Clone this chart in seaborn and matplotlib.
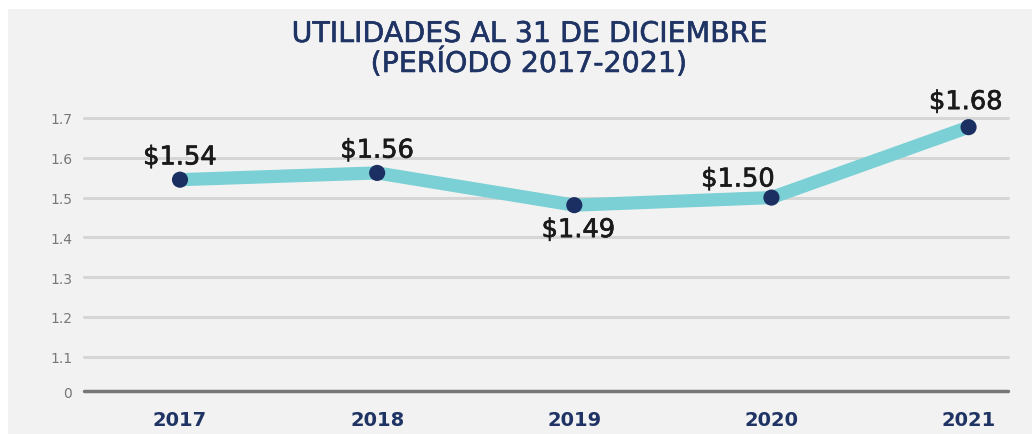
import matplotlib
matplotlib.use("Agg")
import matplotlib.pyplot as plt
import matplotlib.patheffects as pe
import seaborn as sns
import pandas as pd
from matplotlib.patches import Rectangle

years = ["2017", "2018", "2019", "2020", "2021"]
values = [1.545, 1.562, 1.481, 1.50, 1.677]
labels = ["$1.54", "$1.56", "$1.49", "$1.50", "$1.68"]
ytick_values = [1.014, 1.1, 1.2, 1.3, 1.4, 1.5, 1.6, 1.7]
ytick_labels = ["0", "1.1", "1.2", "1.3", "1.4", "1.5", "1.6", "1.7"]
title_lines = ["UTILIDADES AL 31 DE DICIEMBRE", "(PERÍODO 2017-2021)"]

sns.set_style("white")
plt.rcParams['font.family'] = ['DejaVu Sans']

W, H = 1032, 435
fig = plt.figure(figsize=(W / 100, H / 100), dpi=100)
fig.patch.set_facecolor("white")
fig.add_artist(Rectangle((8 / W, 0), 1 - 8 / W, 1 - 10 / H, transform=fig.transFigure,
                         facecolor="#f2f2f2", edgecolor="none", zorder=0))

left, right, top, bottom = 84, 1008, 119, 392
ax = fig.add_axes([left / W, 1 - bottom / H, (right - left) / W, (bottom - top) / H])
ax.set_facecolor("none")

df = pd.DataFrame({"x": list(range(len(years))), "y": values})
sns.lineplot(data=df, x="x", y="y", ax=ax, color="#7ad0d4", linewidth=9.5,
             solid_capstyle="butt", zorder=3)
sns.scatterplot(data=df, x="x", y="y", ax=ax, color="#1b2f62", s=135,
                edgecolor="none", zorder=4)

ax.set_xlim(-0.487, 4.2)
ax.set_ylim(1.014, 1.7)
ax.set_yticks(ytick_values)
ax.set_yticklabels(ytick_labels)
ax.set_xticks(range(len(years)))
ax.set_xticklabels(years)
for gy in ytick_values[1:]:
    ax.axhline(gy, color="#d6d6d6", linewidth=2.2, zorder=1, clip_on=False)
ax.axhline(ytick_values[0], color="#777777", linewidth=2.5, zorder=2, clip_on=False)

for s in ax.spines.values():
    s.set_visible(False)
ax.tick_params(axis="both", length=0)
ax.tick_params(axis="y", labelsize=10, labelcolor="#777777", pad=8.5)
ax.tick_params(axis="x", labelsize=14, labelcolor="#1f3464", pad=14)
for t in ax.get_xticklabels():
    t.set_fontweight("bold")
ax.set_xlabel("")
ax.set_ylabel("")

offsets = [(0, 11), (0, 11), (3, -23), (-24, 8), (-2, 13)]
for i, (v, lab, off) in enumerate(zip(values, labels, offsets)):
    ax.annotate(lab, (i, v), xytext=off, textcoords="offset points",
                ha="center", va="baseline", fontsize=18.5, color="#1a1a1a",
                annotation_clip=False, zorder=5,
                path_effects=[pe.withStroke(linewidth=0.5, foreground="#1a1a1a")])

for line, yb in zip(title_lines, [43, 73]):
    fig.text(529 / W, 1 - yb / H, line, ha="center", va="baseline", fontsize=20.5,
             color="#1f3464",
             path_effects=[pe.withStroke(linewidth=0.4, foreground="#1f3464")])

fig.savefig("out.png", dpi=100)
